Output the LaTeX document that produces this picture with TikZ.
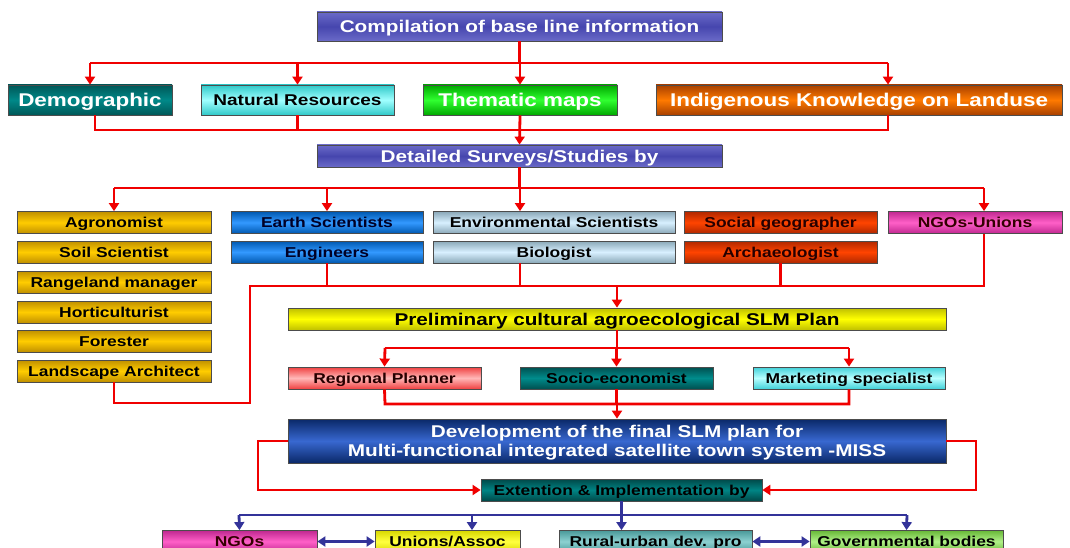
\documentclass[tikz,border=0pt]{standalone}
\usepackage{fontspec}
\newfontfamily\bx{Liberation Sans}[FakeStretch=1.22]
\usetikzlibrary{arrows.meta}
\definecolor{rline}{HTML}{F00000}
\definecolor{bline}{HTML}{333399}
% box colours: edge / centre
\definecolor{compE}{HTML}{6A6AC8}\definecolor{compC}{HTML}{4646AE}
\definecolor{demoE}{HTML}{005858}\definecolor{demoC}{HTML}{008888}
\definecolor{natE}{HTML}{30C8C8}\definecolor{natC}{HTML}{A0FFFF}
\definecolor{themE}{HTML}{00A800}\definecolor{themC}{HTML}{30FF30}
\definecolor{indE}{HTML}{A84000}\definecolor{indC}{HTML}{FF7A00}
\definecolor{goldE}{HTML}{C09000}\definecolor{goldC}{HTML}{FFCC00}
\definecolor{earthE}{HTML}{0058B0}\definecolor{earthC}{HTML}{3399FF}
\definecolor{envE}{HTML}{8AA8B8}\definecolor{envC}{HTML}{D8F0FF}
\definecolor{socE}{HTML}{B02800}\definecolor{socC}{HTML}{FF4400}
\definecolor{ngoE}{HTML}{C02890}\definecolor{ngoC}{HTML}{FF60C8}
\definecolor{preE}{HTML}{C0C000}\definecolor{preC}{HTML}{FFFF00}
\definecolor{regE}{HTML}{F04040}\definecolor{regC}{HTML}{FFB8B8}
\definecolor{socioE}{HTML}{004F4F}\definecolor{socioC}{HTML}{008C8C}
\definecolor{mktE}{HTML}{40D0D8}\definecolor{mktC}{HTML}{B8FFFF}
\definecolor{devE}{HTML}{0A2868}\definecolor{devC}{HTML}{3868D0}
\definecolor{extE}{HTML}{004848}\definecolor{extC}{HTML}{008484}
\definecolor{uniE}{HTML}{D8D800}\definecolor{uniC}{HTML}{FFFF40}
\definecolor{rurE}{HTML}{4A9A9A}\definecolor{rurC}{HTML}{8CD0D0}
\definecolor{govE}{HTML}{68B838}\definecolor{govC}{HTML}{B0F088}
\tikzset{
  box/.style 2 args={draw=black!70, line width=0.8pt, inner sep=0pt, anchor=center,
    top color=#1, bottom color=#1, middle color=#2},
  bigfont/.style={font=\bx\bfseries\fontsize{17}{18.5}\selectfont},
  big/.style={bigfont, text height=12.2pt, text depth=0pt},
  huge/.style={font=\bx\bfseries\fontsize{18.4}{20}\selectfont, text height=13.2pt, text depth=0pt},
  mid/.style={font=\bx\bfseries\fontsize{15.6}{18}\selectfont, text height=11.2pt, text depth=0pt},
  small/.style={font=\bx\bfseries\fontsize{14.3}{16}\selectfont, text height=10.2pt, text depth=0pt},
  rl/.style={draw=rline, line width=2.8pt},
  rla/.style={rl, -{Triangle[length=8pt,width=10pt]}},
  bl/.style={draw=bline, line width=2.8pt},
  bla/.style={bl, -{Triangle[length=8pt,width=10pt]}},
  blb/.style={bl, {Triangle[length=8pt,width=10pt]}-{Triangle[length=8pt,width=10pt]}},
}
\begin{document}
\begin{tikzpicture}[x=1pt,y=-1pt]
\useasboundingbox[fill=white] (0,0) rectangle (1070,548);
% ---- nodes
\node[box={compE}{compC}, big, text=white, minimum width=405, minimum height=29] (comp) at (519.5,26.5) {Compilation of base line information};
\node[box={demoE}{demoC}, huge, text=white, minimum width=164, minimum height=30] (demo) at (90,100) {Demographic};
\node[box={natE}{natC}, mid, minimum width=193, minimum height=30] (natres) at (297.5,100) {Natural Resources};
\node[box={themE}{themC}, huge, text=white, minimum width=194, minimum height=30] (them) at (520,100) {Thematic maps};
\node[box={indE}{indC}, huge, text=white, minimum width=406, minimum height=30] (indig) at (859,100) {Indigenous Knowledge on Landuse};
\node[box={compE}{compC}, big, text=white, minimum width=405, minimum height=22] (detail) at (519.5,156) {Detailed Surveys/Studies by};
% left column
\node[box={goldE}{goldC}, small, minimum width=194, minimum height=22] (agro) at (114,222.5) {Agronomist};
\node[box={goldE}{goldC}, small, minimum width=194, minimum height=22] (soil) at (114,252) {Soil Scientist};
\node[box={goldE}{goldC}, small, minimum width=194, minimum height=22] (range) at (114,282) {Rangeland manager};
\node[box={goldE}{goldC}, small, minimum width=194, minimum height=22] (horti) at (114,312) {Horticulturist};
\node[box={goldE}{goldC}, small, minimum width=194, minimum height=22] (forest) at (114,341) {Forester};
\node[box={goldE}{goldC}, small, minimum width=194, minimum height=22] (land) at (114,371) {Landscape Architect};
% other columns
\node[box={earthE}{earthC}, small, text={black!85!blue}, minimum width=192, minimum height=22] (earth) at (327,222.5) {Earth Scientists};
\node[box={earthE}{earthC}, small, text={black!85!blue}, minimum width=192, minimum height=22] (engin) at (327,252) {Engineers};
\node[box={envE}{envC}, small, minimum width=242, minimum height=22] (env) at (554,222.5) {Environmental Scientists};
\node[box={envE}{envC}, small, minimum width=242, minimum height=22] (bio) at (554,252) {Biologist};
\node[box={socE}{socC}, small, text={black!85!red}, minimum width=193, minimum height=22] (socgeo) at (780.5,222.5) {Social geographer};
\node[box={socE}{socC}, small, text={black!85!red}, minimum width=193, minimum height=22] (archae) at (780.5,252) {Archaeologist};
\node[box={ngoE}{ngoC}, small, text={black!80!red}, minimum width=174, minimum height=22] (ngosu) at (975,222.5) {NGOs-Unions};
% middle
\node[box={preE}{preC}, big, minimum width=658, minimum height=22] (prelim) at (617,319) {Preliminary cultural agroecological SLM Plan};
\node[box={regE}{regC}, small, text={black!85!red}, minimum width=193, minimum height=22] (regional) at (384.5,378) {Regional Planner};
\node[box={socioE}{socioC}, small, minimum width=193, minimum height=22] (socio) at (616.5,378) {Socio-economist};
\node[box={mktE}{mktC}, small, minimum width=192, minimum height=22] (market) at (849,378) {Marketing specialist};
\node[box={devE}{devC}, minimum width=658, minimum height=44] (dev) at (617,441) {};
\node[bigfont, text=white, align=center, inner sep=0pt, anchor=center, yshift=-1.5pt] (devtext) at (dev.center) {Development of the final SLM plan for\\Multi-functional integrated satellite town system -MISS};
\node[box={extE}{extC}, small, minimum width=281, minimum height=22] (ext) at (621.5,490) {Extention \& Implementation by};
% bottom row
\node[box={ngoE}{ngoC}, small, text={black!80!red}, minimum width=155, minimum height=22] (ngos) at (239.5,541.5) {NGOs};
\node[box={uniE}{uniC}, small, minimum width=145, minimum height=22] (unions) at (447.5,541.5) {Unions/Assoc};
\node[box={rurE}{rurC}, small, minimum width=193, minimum height=22] (rural) at (655.5,541.5) {Rural-urban dev. pro};
\node[box={govE}{govC}, small, minimum width=193, minimum height=22] (gov) at (906.5,541.5) {Governmental bodies};
% ---- helper coordinates
\coordinate (t1) at (90,63);   \coordinate (t4) at (888,63);
\coordinate (u1) at (95,130);  \coordinate (u4) at (888,130);
\coordinate (s1) at (114,188); \coordinate (s3) at (520,188); \coordinate (s4) at (984,188);
\coordinate (m1) at (250,286); \coordinate (m4) at (984,286);
\coordinate (l1) at (250,403); \coordinate (l2) at (114,403);
\coordinate (p1) at (385,348); \coordinate (p3) at (849,348);
\coordinate (q1) at (385,404); \coordinate (q3) at (849,404);
\coordinate (d1) at (258,0);   \coordinate (d2) at (976,0);
\coordinate (e1) at (239,515); \coordinate (e2) at (472,515); \coordinate (e4) at (907,515);
% ---- red connectors
\draw[rl] (comp.south) -- (comp.south |- t1);
\draw[rl] (t1) -- (t4);
\draw[rla] (t1) -- (demo.north);
\draw[rla] (natres.north |- t1) -- (natres.north);
\draw[rla] (them.north |- t1) -- (them.north);
\draw[rla] (t4) -- (t4 |- indig.north);
\draw[rl] (u1 |- demo.south) -- (u1) -- (u4) -- (u4 |- indig.south);
\draw[rl] (natres.south) -- (natres.south |- u1);
\draw[rla] (them.south) -- (detail.north);
\draw[rl] (detail.south) -- (detail.south |- s1);
\draw[rl] (s1) -- (s4);
\draw[rla] (s1) -- (agro.north);
\draw[rla] (earth.north |- s1) -- (earth.north);
\draw[rla] (s3) -- (s3 |- env.north);
\draw[rla] (s4) -- (s4 |- ngosu.north);
\draw[rl] (engin.south) -- (engin.south |- m1);
\draw[rl] (s3 |- bio.south) -- (s3 |- m1);
\draw[rl] (archae.south) -- (archae.south |- m1);
\draw[rl] (m4 |- ngosu.south) -- (m4) -- (m1) -- (l1) -- (l2) -- (land.south);
\draw[rla] (prelim.north |- m1) -- (prelim.north);
\draw[rl] (prelim.south) -- (prelim.south |- p1);
\draw[rl] (p1) -- (p3);
\draw[rla] (p1) -- (regional.north);
\draw[rla] (socio.north |- p1) -- (socio.north);
\draw[rla] (p3) -- (market.north);
\draw[rl] (regional.south) -- (q1) -- (q3) -- (market.south);
\draw[rl] (socio.south) -- (socio.south |- q1);
\draw[rla] (dev.north |- q1) -- (dev.north);
\draw[rla] (dev.west) -- (d1 |- dev.west) -- (d1 |- ext.west) -- (ext.west);
\draw[rla] (dev.east) -- (d2 |- dev.east) -- (d2 |- ext.east) -- (ext.east);
% ---- blue connectors
\draw[bl] (ext.south) -- (ext.south |- e1);
\draw[bl] (e1) -- (e4);
\draw[bla] (e1) -- (ngos.north);
\draw[bla] (e2) -- (e2 |- unions.north);
\draw[bla] (ext.south |- e1) -- (ext.south |- rural.north);
\draw[bla] (e4) -- (gov.north);
\draw[blb] (ngos.east) -- (unions.west);
\draw[blb] (rural.east) -- (gov.west);
\end{tikzpicture}
\end{document}
